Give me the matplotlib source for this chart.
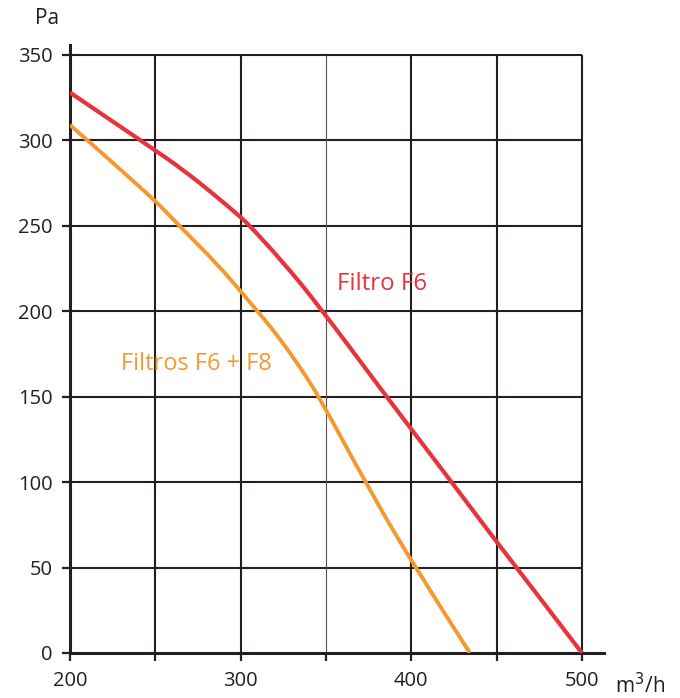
import matplotlib
matplotlib.use("Agg")
import matplotlib.pyplot as plt
from matplotlib.path import Path
from matplotlib.patches import PathPatch

plt.rcParams['font.family'] = ['Open Sans', 'DejaVu Sans']

# Data
f6_x = [200, 246.9, 266.4, 285.9, 300.2, 305.5, 325, 344.5, 385.5, 400, 423.6, 450, 461.7, 500]
f6_y = [328, 296.3, 282.7, 267.1, 254.9, 249.9, 228.5, 204.9, 150, 131, 100, 65, 50, 0]
f6f8_x = [200, 246.9, 264.5, 285.9, 300.2, 309.8, 319.1, 333, 346, 373, 402, 434.4]
f6f8_y = [309, 268, 249.5, 228, 211.5, 200, 189, 170, 150, 100, 50, 0]
x_ticks = [200, 250, 300, 350, 400, 450, 500]
x_labels = ['200', '', '300', '', '400', '', '500']
y_ticks = [0, 50, 100, 150, 200, 250, 300, 350]
y_labels = ['0', '50', '100', '150', '200', '250', '300', '350']
label_f6 = 'Filtro F6'
label_f6f8 = 'Filtros F6 + F8'

black = '#231f20'
red = '#e8333c'
orange = '#f5992f'


def smooth_path(xs, ys):
    """Quadratic B-spline style path: the read points act as control points."""
    pts = list(zip(xs, ys))
    verts = [pts[0]]
    codes = [Path.MOVETO]
    for i in range(1, len(pts) - 1):
        mid = ((pts[i][0] + pts[i + 1][0]) / 2, (pts[i][1] + pts[i + 1][1]) / 2)
        if i == len(pts) - 2:
            mid = pts[-1]
        verts += [pts[i], mid]
        codes += [Path.CURVE3, Path.CURVE3]
    return Path(verts, codes)


W, H = 680, 698
fig = plt.figure(figsize=(W / 100, H / 100), dpi=100)
ax = fig.add_axes([70 / W, 45 / H, 534 / W, 608 / H])
ax.set_xlim(200, 512.9)
ax.set_ylim(0, 355.8)

# grid
for yv in y_ticks[1:]:
    ax.hlines(yv, 200, 500, color=black, lw=1.5, zorder=1)
for xv in x_ticks[1:]:
    if xv == 350:
        ax.vlines(xv, 0, 350, color='#555555', lw=0.8, zorder=1)
    else:
        ax.vlines(xv, 0, 350, color=black, lw=1.5, zorder=1)

ax.add_patch(PathPatch(smooth_path(f6_x, f6_y), fill=False, edgecolor=red,
                       lw=3.0, zorder=3, capstyle='butt', joinstyle='round'))
ax.add_patch(PathPatch(smooth_path(f6f8_x, f6f8_y), fill=False, edgecolor=orange,
                       lw=2.8, zorder=3, capstyle='butt', joinstyle='round'))

ax.text(356.4, 216, label_f6, color=red, fontsize=17.3, va='center', ha='left')
ax.text(229.9, 169, label_f6f8, color=orange, fontsize=17.0, va='center', ha='left')

for s in ['top', 'right']:
    ax.spines[s].set_visible(False)
for s in ['left', 'bottom']:
    ax.spines[s].set_linewidth(2.2)
    ax.spines[s].set_color(black)

ax.set_xticks(x_ticks)
ax.set_xticklabels(x_labels)
ax.set_yticks(y_ticks)
ax.set_yticklabels(y_labels)
ax.tick_params(axis='both', direction='out', length=5.8, width=1.6, color=black,
               labelsize=14.5, labelcolor=black)
ax.tick_params(axis='y', pad=6.5)
ax.tick_params(axis='x', pad=7)

fig.text(47 / W, 1 - 18 / H, 'Pa', fontsize=15, ha='center', va='center', color=black)
fig.text(640 / W, 1 - 686 / H, 'm$^3$/h', fontsize=15, ha='center', va='center', color=black)

fig.savefig('out.png', dpi=100)
